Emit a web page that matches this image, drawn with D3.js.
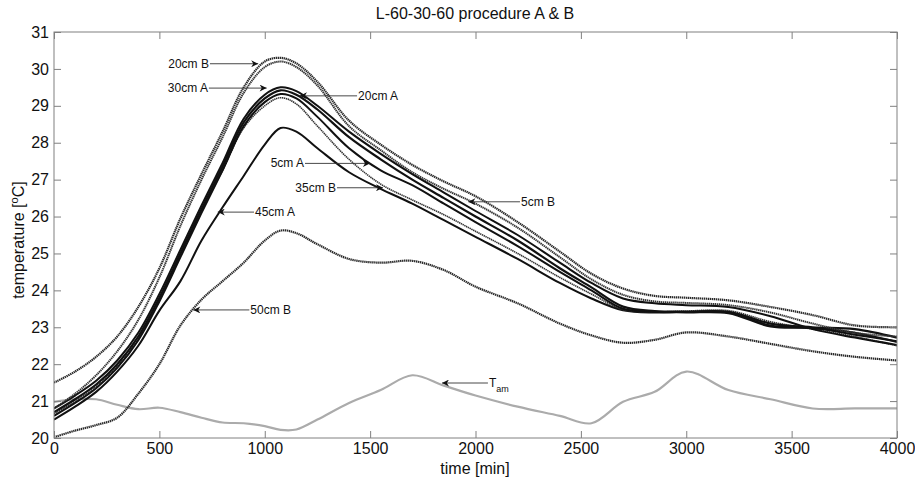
<!DOCTYPE html>
<html>
<head>
<meta charset="utf-8">
<script src="https://cdn.jsdelivr.net/npm/d3@7"></script>
<style>
  body { margin: 0; background: #fff; }
  text { font-family: "Liberation Sans", Arial, sans-serif; }
</style>
</head>
<body>
<div id="chart"></div>
<script>
// time grid shared by every series [min]
const times = [0,100,200,300,400,500,600,700,800,900,1000,1075,1150,1250,1400,1550,1700,1850,2000,2200,2400,2550,2700,2850,3000,3200,3400,3600,3800,4000];

// temperatures [oC]
const t20cmB = [21.5,21.8,22.2,22.75,23.55,24.6,25.95,27.15,28.3,29.5,30.2,30.3,30.15,29.65,28.6,27.95,27.4,26.95,26.55,25.85,25.05,24.45,24.05,23.85,23.8,23.73,23.55,23.33,23.05,23.0];
const t5cmB  = [20.8,21.2,21.7,22.35,23.2,24.35,25.75,27.0,28.15,29.35,30.05,30.2,30.05,29.55,28.45,27.8,27.2,26.75,26.35,25.7,24.9,24.3,23.88,23.7,23.66,23.6,23.4,23.1,22.85,22.75];
const t30cmA = [20.8,21.15,21.55,22.1,22.85,23.9,25.1,26.3,27.45,28.65,29.3,29.5,29.4,29.0,28.3,27.7,27.15,26.65,26.15,25.5,24.75,24.2,23.78,23.65,23.6,23.55,23.3,22.95,22.72,22.52];
const t20cmA = [20.7,21.05,21.45,22.0,22.75,23.8,25.0,26.2,27.35,28.55,29.2,29.42,29.3,28.9,28.15,27.55,27.0,26.5,26.0,25.35,24.6,24.08,23.56,23.44,23.42,23.42,23.1,23.0,22.95,22.72];
const t5cmA  = [20.6,20.95,21.35,21.9,22.65,23.7,24.9,26.1,27.25,28.45,29.1,29.32,29.2,28.7,27.85,27.25,26.85,26.35,25.85,25.2,24.5,24.0,23.5,23.42,23.4,23.38,23.02,22.98,22.85,22.6];
const t35cmB = [20.65,21.0,21.4,21.95,22.7,23.75,24.95,26.15,27.25,28.4,29.0,29.22,29.05,28.45,27.55,26.88,26.45,26.05,25.6,25.0,24.35,23.9,23.48,23.42,23.44,23.45,23.15,22.95,22.75,22.5];
const t45cmA = [20.5,20.85,21.25,21.8,22.5,23.45,24.25,25.35,26.25,27.1,27.95,28.4,28.3,27.85,27.2,26.75,26.35,25.9,25.45,24.85,24.2,23.78,23.46,23.4,23.42,23.4,23.05,22.98,22.8,22.62];
const t50cmB = [20.02,20.2,20.35,20.55,21.2,22.0,23.05,23.75,24.25,24.75,25.35,25.62,25.55,25.25,24.85,24.75,24.8,24.55,24.1,23.65,23.1,22.78,22.58,22.66,22.86,22.75,22.55,22.35,22.2,22.1];
const tAm    = [20.98,21.05,21.05,20.9,20.78,20.82,20.7,20.55,20.42,20.4,20.32,20.22,20.23,20.5,20.95,21.3,21.7,21.42,21.15,20.85,20.6,20.4,20.98,21.25,21.8,21.3,21.05,20.8,20.8,20.8];

const xTicks = [0,500,1000,1500,2000,2500,3000,3500,4000];
const yTicks = [20,21,22,23,24,25,26,27,28,29,30,31];

// annotation labels: arrow tip (time, temp) and where the text sits (time)
const notes = [
  { label: "20cm B", tipX: 969,  tipY: 30.14, textX: 740,  side: "left" },
  { label: "30cm A", tipX: 1009, tipY: 29.48, textX: 735,  side: "left" },
  { label: "20cm A", tipX: 1167, tipY: 29.27, textX: 1438, side: "right" },
  { label: "5cm A",  tipX: 1499, tipY: 27.44, textX: 1191, side: "left" },
  { label: "35cm B", tipX: 1561, tipY: 26.78, textX: 1343, side: "left" },
  { label: "45cm A", tipX: 777,  tipY: 26.12, textX: 949,  side: "right" },
  { label: "50cm B", tipX: 661,  tipY: 23.47, textX: 927,  side: "right" },
  { label: "5cm B",  tipX: 1966, tipY: 26.40, textX: 2211, side: "right" },
  { label: "T", sub: "am", tipX: 1841, tipY: 21.49, textX: 2059, side: "right" }
];

const width = 915;
const height = 479;
const margin = { top: 32, right: 18, bottom: 41, left: 54 };

const svg = d3.select("#chart").append("svg")
    .attr("width", width)
    .attr("height", height);

const x = d3.scaleLinear().domain([0, 4000]).range([margin.left, width - margin.right]);
const y = d3.scaleLinear().domain([20, 31]).range([height - margin.bottom, margin.top]);

// clip so lines stay inside the box
svg.append("clipPath").attr("id", "clip")
  .append("rect")
    .attr("x", margin.left).attr("y", margin.top)
    .attr("width", x(4000) - x(0)).attr("height", y(20) - y(31));

const line = d3.line()
    .x((d, i) => x(times[i]))
    .y(d => y(d))
    .curve(d3.curveCatmullRom.alpha(0.5));

const series = [
  { values: tAm,    color: "#ababab", w: 2.2, dash: null },
  { values: t50cmB, color: "#2a2a2a", w: 2.2, dash: "1.4,0.6" },
  { values: t45cmA, color: "#111",    w: 2.0, dash: null },
  { values: t35cmB, color: "#333",    w: 1.6, dash: "1.4,0.6" },
  { values: t5cmA,  color: "#111",    w: 2.0, dash: null },
  { values: t20cmA, color: "#111",    w: 2.2, dash: null },
  { values: t30cmA, color: "#111",    w: 2.0, dash: null },
  { values: t5cmB,  color: "#333",    w: 2.0, dash: "1.4,0.6" },
  { values: t20cmB, color: "#2a2a2a", w: 2.2, dash: "1.4,0.6" }
];

svg.append("g").attr("clip-path", "url(#clip)")
  .selectAll("path")
  .data(series)
  .enter()
  .append("path")
    .attr("d", d => line(d.values))
    .attr("fill", "none")
    .attr("stroke", d => d.color)
    .attr("stroke-width", d => d.w)
    .attr("stroke-dasharray", d => d.dash);

// axes: ticks pointing inward on all four sides
const axisColor = "#808080";
const fmt = d3.format("d");
const gx = svg.append("g")
    .attr("transform", `translate(0, ${y(20)})`)
    .call(d3.axisBottom(x).tickValues(xTicks).tickFormat(fmt).tickSizeInner(-7).tickSizeOuter(0).tickPadding(5));
const gy = svg.append("g")
    .attr("transform", `translate(${x(0)}, 0)`)
    .call(d3.axisLeft(y).tickValues(yTicks).tickFormat(fmt).tickSizeInner(-7).tickSizeOuter(0).tickPadding(5));
const gt = svg.append("g")
    .attr("transform", `translate(0, ${y(31)})`)
    .call(d3.axisTop(x).tickValues(xTicks).tickSizeInner(-7).tickSizeOuter(0).tickFormat(""));
const gr = svg.append("g")
    .attr("transform", `translate(${x(4000)}, 0)`)
    .call(d3.axisRight(y).tickValues(yTicks).tickSizeInner(-7).tickSizeOuter(0).tickFormat(""));

[gx, gy, gt, gr].forEach(g => {
  g.select(".domain").remove();
  g.selectAll(".tick line").attr("stroke", axisColor);
  g.selectAll(".tick text")
      .attr("fill", "#111")
      .style("font-family", "'Liberation Sans', Arial, sans-serif")
      .style("font-size", "16px");
});

svg.append("rect")
    .attr("x", x(0)).attr("y", y(31))
    .attr("width", x(4000) - x(0)).attr("height", y(20) - y(31))
    .attr("fill", "none")
    .attr("stroke", axisColor)
    .attr("stroke-width", 1);

// title and axis labels
svg.append("text")
    .attr("x", 475).attr("y", 19)
    .attr("text-anchor", "middle")
    .style("font-size", "16px")
    .attr("fill", "#111")
    .text("L-60-30-60 procedure A & B");

svg.append("text")
    .attr("x", 475).attr("y", 474)
    .attr("text-anchor", "middle")
    .style("font-size", "16px")
    .attr("fill", "#111")
    .text("time [min]");

const yl = svg.append("text")
    .attr("transform", "translate(24, 240) rotate(-90)")
    .attr("text-anchor", "middle")
    .style("font-size", "16px")
    .attr("fill", "#111");
yl.append("tspan").text("temperature [");
yl.append("tspan").attr("baseline-shift", "super").style("font-size", "11px").text("o");
yl.append("tspan").text("C]");

// arrow head
svg.append("defs").append("marker")
    .attr("id", "arrow")
    .attr("viewBox", "0 0 10 10")
    .attr("refX", 10).attr("refY", 5)
    .attr("markerWidth", 10).attr("markerHeight", 7)
    .attr("markerUnits", "userSpaceOnUse")
    .attr("orient", "auto")
  .append("path")
    .attr("d", "M0,0 L10,5 L0,10 L3,5 Z")
    .attr("fill", "#111");

const ng = svg.append("g");
notes.forEach(n => {
  ng.append("line")
      .attr("x1", x(n.textX)).attr("y1", y(n.tipY))
      .attr("x2", x(n.tipX)).attr("y2", y(n.tipY))
      .attr("stroke", "#333")
      .attr("stroke-width", 0.9)
      .attr("marker-end", "url(#arrow)");
  const t = ng.append("text")
      .attr("x", n.side === "left" ? x(n.textX) - 1 : x(n.textX) + 1)
      .attr("y", y(n.tipY) + 4)
      .attr("text-anchor", n.side === "left" ? "end" : "start")
      .style("font-size", "12px")
      .attr("fill", "#111");
  t.append("tspan").text(n.label);
  if (n.sub) {
    t.append("tspan").attr("dy", 5).style("font-size", "9px").text(n.sub);
  }
});
</script>
</body>
</html>
